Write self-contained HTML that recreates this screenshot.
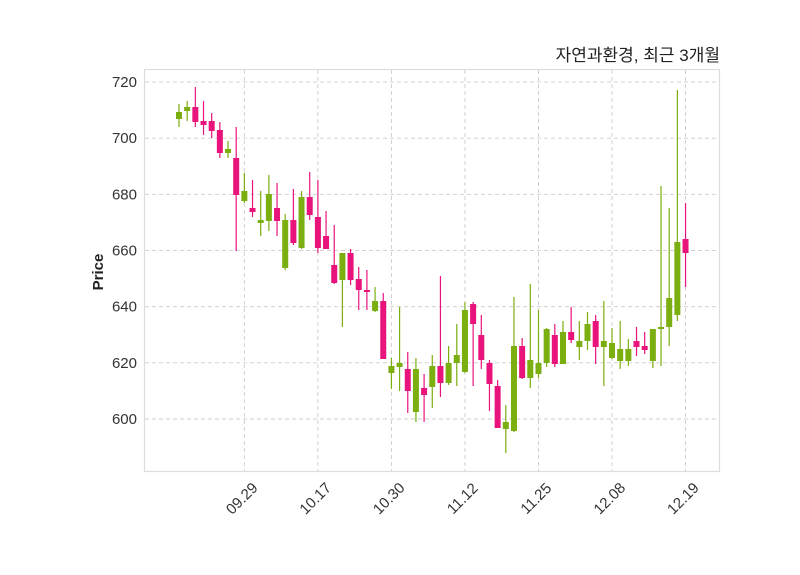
<!DOCTYPE html>
<html><head><meta charset="utf-8"><style>
body{margin:0;background:#fff;}
svg{display:block;font-family:"Liberation Sans","Noto Sans CJK KR",sans-serif;}
</style></head><body>
<svg id="s" width="800" height="575" xmlns="http://www.w3.org/2000/svg">
<rect x="0" y="0" width="800" height="575" fill="#fff"/>
<g id="grid" stroke="#cccccc" stroke-width="0.9" stroke-dasharray="4,3"></g>
<g id="c"></g>
<rect x="144.5" y="69.5" width="575" height="402" fill="none" stroke="#dddddd" stroke-width="1.2"/>
<g id="lbl" font-size="15" fill="#333"></g>
<text x="720" y="61" text-anchor="end" font-size="17" fill="#222">자연과환경, 최근 3개월</text>
<text transform="translate(103,272) rotate(-90)" text-anchor="middle" font-size="15" font-weight="bold" fill="#222">Price</text>
</svg>
<script>
var d=[
[104,112,119,127,'g'],[101,107,111,121,'g'],[87,107,122,127,'r'],[101,121,125,135,'r'],[113,121,131,138,'r'],
[122,130,153,158,'r'],[141,149,153,158,'g'],[127,158,195,251,'r'],[173,191,201,203,'g'],[180,208,212,217,'r'],
[191,220,223,236,'g'],[175,194,221,231,'g'],[183,208,221,236,'r'],[214,220,268,270,'g'],[189,220,243,245,'r'],
[191,197,248,249,'g'],[172,197,215,220,'r'],[180,217,248,253,'r'],[211,236,249,249,'r'],[225,265,283,284,'r'],
[253,253,280,327,'g'],[249,253,280,285,'r'],[267,279,290,310,'r'],[270,290,291,310,'r'],[287,301,311,312,'g'],
[293,301,359,359,'r'],[358,366,373,389,'g'],[307,363,367,391,'g'],[352,369,391,413,'r'],[358,369,412,422,'g'],
[374,388,395,422,'r'],[355,366,387,408,'g'],[276,366,383,397,'r'],[346,363,383,385,'g'],[324,355,363,386,'g'],
[302,310,372,373,'g'],[302,304,324,386,'r'],[315,335,360,369,'r'],[360,363,384,411,'r'],[380,386,428,428,'r'],
[405,422,429,453,'g'],[297,346,431,432,'g'],[338,346,378,379,'r'],[284,360,378,388,'g'],[310,363,374,378,'g'],
[328,329,363,367,'g'],[324,335,364,367,'r'],[321,332,364,364,'g'],[307,332,340,343,'r'],[321,341,347,360,'g'],
[312,324,341,350,'g'],[315,321,347,364,'r'],[301,341,347,386,'g'],[328,343,358,359,'g'],[321,349,361,369,'g'],
[339,349,361,366,'g'],[327,341,347,356,'r'],[332,346,350,354,'r'],[329,329,361,368,'g'],[186,327,329,366,'g'],
[208,298,327,346,'g'],[90,242,315,321,'g'],[203,239,253,287,'r']];
var ns="http://www.w3.org/2000/svg";
function el(p,t,a){var e=document.createElementNS(ns,t);for(var k in a)e.setAttribute(k,a[k]);p.appendChild(e);return e;}
var c=document.getElementById('c'),g=document.getElementById('grid'),l=document.getElementById('lbl');
var X=function(i){return 179+8.17*i;};
[720,700,680,660,640,620,600].forEach(function(v){var y=419-(v-600)*2.808;
el(g,'line',{x1:145,x2:719,y1:y,y2:y});
var t=el(l,'text',{x:137,y:y+5,'text-anchor':'end'});t.textContent=v;});
var ticks=[[8,'09.29'],[17,'10.17'],[26,'10.30'],[35,'11.12'],[44,'11.25'],[53,'12.08'],[62,'12.19']];
ticks.forEach(function(k){var x=X(k[0]);el(g,'line',{x1:x,x2:x,y1:70,y2:471});
var t=el(l,'text',{x:0,y:0,'text-anchor':'middle',transform:'translate('+(x+1)+',502) rotate(-45)'});t.textContent=k[1];});
d.forEach(function(r,i){var x=X(i),col=r[4]=='g'?'#7bae0f':'#e8137b';
el(c,'line',{x1:x,x2:x,y1:r[0],y2:r[3],stroke:col,'stroke-width':1.2});
el(c,'rect',{x:x-3,y:r[1],width:6,height:Math.max(2,r[2]-r[1]),fill:col});});
</script>
</body></html>
